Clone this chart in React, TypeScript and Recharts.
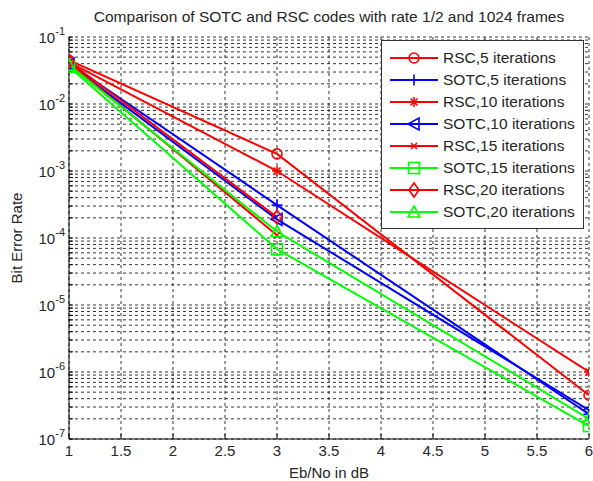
import React from "react";
import { LineChart, Line, XAxis, YAxis, CartesianGrid } from "recharts";

const ebno = [1, 3, 6];
const rsc5 = [0.045, 1.8e-3, 4.5e-7];
const sotc5 = [0.040, 3.1e-4, 2.35e-7];
const rsc10 = [0.042, 1.0e-3, 1.0e-6];
const sotc10 = [0.039, 1.9e-4, 2.7e-7];
const rsc15 = [0.041, 1.1e-4];
const sotc15 = [0.036, 6.8e-5, 1.56e-7];
const rsc20 = [0.043, 2.05e-4];
const sotc20 = [0.038, 1.25e-4, 2.0e-7];

const xTicks = [1, 1.5, 2, 2.5, 3, 3.5, 4, 4.5, 5, 5.5, 6];
const decades = [-7, -6, -5, -4, -3, -2, -1];
const yTicks: number[] = [];
decades.forEach((d) => {
  if (d === -1) {
    yTicks.push(Math.pow(10, d));
  } else {
    for (let m = 1; m <= 9; m++) yTicks.push(m * Math.pow(10, d));
  }
});

const title = "Comparison of SOTC and RSC codes with rate 1/2 and 1024 frames";
const xLabel = "Eb/No in dB";
const yLabel = "Bit Error Rate";

const RED = "#ff0000";
const BLUE = "#0000ff";
const GREEN = "#00ff00";

type Shape = "circle" | "plus" | "star" | "triLeft" | "xmark" | "square" | "diamond" | "triUp";

const series: { name: string; values: number[]; color: string; shape: Shape }[] = [
  { name: "RSC,5 iterations", values: rsc5, color: RED, shape: "circle" },
  { name: "SOTC,5 iterations", values: sotc5, color: BLUE, shape: "plus" },
  { name: "RSC,10 iterations", values: rsc10, color: RED, shape: "star" },
  { name: "SOTC,10 iterations", values: sotc10, color: BLUE, shape: "triLeft" },
  { name: "RSC,15 iterations", values: rsc15, color: RED, shape: "xmark" },
  { name: "SOTC,15 iterations", values: sotc15, color: GREEN, shape: "square" },
  { name: "RSC,20 iterations", values: rsc20, color: RED, shape: "diamond" },
  { name: "SOTC,20 iterations", values: sotc20, color: GREEN, shape: "triUp" },
];

const FONT = "'Liberation Sans', Arial, sans-serif";
const TEXT = "#262626";

function Marker({ cx, cy, color, shape }: { cx: number; cy: number; color: string; shape: Shape }) {
  const sw = 1.6;
  switch (shape) {
    case "circle":
      return <circle cx={cx} cy={cy} r={5} fill="none" stroke={color} strokeWidth={sw} />;
    case "plus":
      return (
        <g stroke={color} strokeWidth={sw}>
          <line x1={cx - 5.5} y1={cy} x2={cx + 5.5} y2={cy} />
          <line x1={cx} y1={cy - 5.5} x2={cx} y2={cy + 5.5} />
        </g>
      );
    case "star":
      return (
        <g stroke={color} strokeWidth={sw}>
          <line x1={cx - 5} y1={cy} x2={cx + 5} y2={cy} />
          <line x1={cx} y1={cy - 5} x2={cx} y2={cy + 5} />
          <line x1={cx - 3.5} y1={cy - 3.5} x2={cx + 3.5} y2={cy + 3.5} />
          <line x1={cx - 3.5} y1={cy + 3.5} x2={cx + 3.5} y2={cy - 3.5} />
        </g>
      );
    case "triLeft":
      return (
        <polygon
          points={`${cx - 6},${cy} ${cx + 5},${cy - 6} ${cx + 5},${cy + 6}`}
          fill="none"
          stroke={color}
          strokeWidth={sw}
        />
      );
    case "xmark":
      return (
        <g stroke={color} strokeWidth={sw}>
          <line x1={cx - 3} y1={cy - 3} x2={cx + 3} y2={cy + 3} />
          <line x1={cx - 3} y1={cy + 3} x2={cx + 3} y2={cy - 3} />
        </g>
      );
    case "square":
      return (
        <rect x={cx - 5.5} y={cy - 5.5} width={11} height={11} fill="none" stroke={color} strokeWidth={sw} />
      );
    case "diamond":
      return (
        <polygon
          points={`${cx},${cy - 7} ${cx + 5},${cy} ${cx},${cy + 7} ${cx - 5},${cy}`}
          fill="none"
          stroke={color}
          strokeWidth={sw}
        />
      );
    case "triUp":
    default:
      return (
        <polygon
          points={`${cx},${cy - 6} ${cx + 6},${cy + 5} ${cx - 6},${cy + 5}`}
          fill="none"
          stroke={color}
          strokeWidth={sw}
        />
      );
  }
}

function YTick(props: any) {
  const { x, y, payload } = props;
  const v = payload.value as number;
  const e = Math.round(Math.log10(v));
  if (Math.abs(v - Math.pow(10, e)) / v > 1e-6) return <g />;
  return (
    <text x={x - 6} y={y + 6} textAnchor="end" fontFamily={FONT} fill={TEXT}>
      <tspan fontSize={15}>10</tspan>
      <tspan fontSize={11} dy={-8}>
        {String(e)}
      </tspan>
    </text>
  );
}

export default function App() {
  return (
    <div style={{ position: "absolute", left: 0, top: 0, width: 593, height: 481, background: "#fff" }}>
      <div
        style={{
          position: "absolute",
          left: 69,
          width: 520,
          top: 8,
          textAlign: "center",
          fontFamily: FONT,
          fontSize: 15.5,
          lineHeight: "18px",
          color: TEXT,
          whiteSpace: "nowrap",
        }}
      >
        {title}
      </div>
      <LineChart width={593} height={481} margin={{ top: 37, right: 4, bottom: 0, left: 0 }}>
        <CartesianGrid
          stroke="#000"
          strokeDasharray="3 3"
          strokeWidth={0.8}
          horizontalValues={yTicks}
          verticalValues={xTicks}
        />
        <XAxis
          type="number"
          dataKey="x"
          domain={[1, 6]}
          ticks={xTicks}
          allowDataOverflow
          height={42}
          stroke="#000"
          tickLine={{ stroke: "#000" }}
          tickSize={-5}
          tick={{ fontFamily: FONT, fontSize: 15, fill: TEXT, dy: 9 }}
          label={{ value: xLabel, position: "insideBottom", offset: 3, fontFamily: FONT, fontSize: 15, fill: TEXT }}
        />
        <XAxis
          xAxisId="top"
          orientation="top"
          type="number"
          domain={[1, 6]}
          ticks={xTicks}
          height={0}
          stroke="#000"
          tick={false}
          tickSize={-5}
        />
        <YAxis
          type="number"
          scale="log"
          domain={[1e-7, 1e-1]}
          ticks={yTicks}
          allowDataOverflow
          interval={0}
          width={69}
          stroke="#000"
          tickSize={-4}
          tick={<YTick />}
          label={{ value: yLabel, angle: -90, position: "insideLeft", offset: 17, fontFamily: FONT, fontSize: 15, fill: TEXT, style: { textAnchor: "middle" } }}
        />
        <YAxis
          yAxisId="right"
          orientation="right"
          type="number"
          scale="log"
          domain={[1e-7, 1e-1]}
          ticks={yTicks}
          interval={0}
          width={0}
          stroke="#000"
          tick={false}
          tickSize={-4}
        />
        {series.map((s) => (
          <Line
            key={s.name}
            data={s.values.map((v, i) => ({ x: ebno[i], y: v }))}
            dataKey="y"
            name={s.name}
            stroke={s.color}
            strokeWidth={2}
            isAnimationActive={false}
            dot={(p: any) => (
              <g key={`${s.name}-${p.index}`}>
                <Marker cx={p.cx} cy={p.cy} color={s.color} shape={s.shape} />
              </g>
            )}
            activeDot={false}
          />
        ))}
      </LineChart>
      <div
        style={{
          position: "absolute",
          left: 381,
          top: 40,
          width: 201,
          height: 181,
          border: "1px solid #333",
          background: "#fff",
          boxSizing: "content-box",
          paddingTop: 6,
          fontFamily: FONT,
          fontSize: 15.5,
          color: TEXT,
        }}
      >
        {series.map((s) => (
          <div key={s.name} style={{ height: 22, display: "flex", alignItems: "center" }}>
            <svg width={60} height={22} style={{ flex: "none" }}>
              <line x1={8} y1={11} x2={56} y2={11} stroke={s.color} strokeWidth={2} />
              <Marker cx={32} cy={11} color={s.color} shape={s.shape} />
            </svg>
            <span style={{ whiteSpace: "nowrap", marginLeft: 1 }}>{s.name}</span>
          </div>
        ))}
      </div>
    </div>
  );
}
